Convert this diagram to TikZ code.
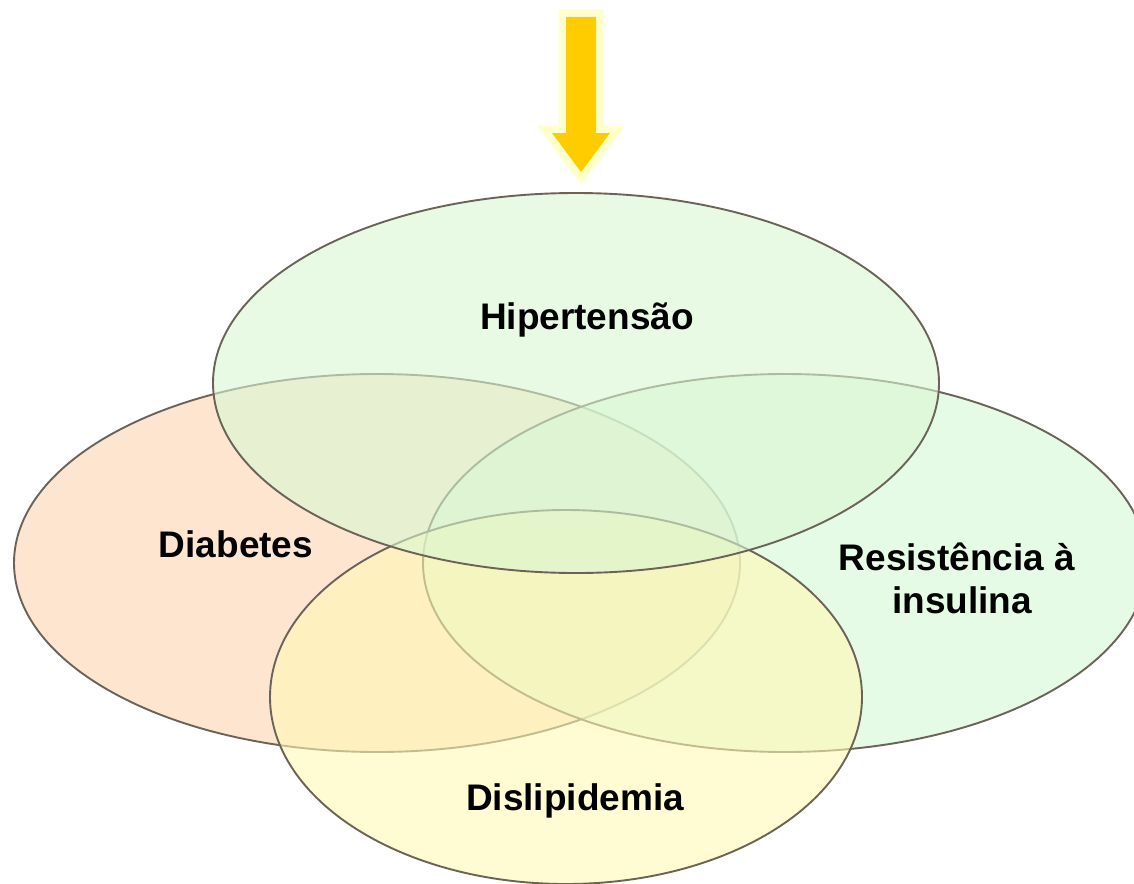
\documentclass[tikz,border=0pt]{standalone}
\usepackage{fontspec}
\setmainfont{Liberation Sans}
\definecolor{rim}{HTML}{6B6358}
\definecolor{peach}{HTML}{FCD4B1}
\definecolor{mint}{HTML}{DAF7D2}
\definecolor{leaf}{HTML}{D5F8D5}
\definecolor{cream}{HTML}{FFF8B4}
\definecolor{gold}{HTML}{FFCC00}
\definecolor{glow}{HTML}{FFFFCC}

\begin{document}
\begin{tikzpicture}[x=1pt,y=-1pt,
    set/.style={draw=rim,line width=1.9pt,fill opacity=0.6},
    tag/.style={font=\fontsize{37}{43}\selectfont\bfseries,inner sep=0pt,anchor=base}]
  \useasboundingbox (0,0) rectangle (1134,883);
  \clip (0,0) rectangle (1134,883);

  \fill[gold,preaction={draw=glow,line width=15pt,line join=miter}]
    (566,17) -- (596,17) -- (596,133) -- (610,133) -- (581,172)
    -- (552,133) -- (566,133) -- cycle;

  \filldraw[set,fill=peach] (377,563) ellipse [x radius=363pt, y radius=189pt];
  \filldraw[set,fill=leaf] (785,563) ellipse [x radius=362pt, y radius=189pt];
  \filldraw[set,fill=cream] (566,697) ellipse [x radius=296pt, y radius=187pt];
  \filldraw[set,fill=mint] (576,383) ellipse [x radius=363pt, y radius=190pt];

  \node[tag] (hip) at (587,329) {Hipertensão};
  \node[tag] (dia) at (236,557) {Diabetes};
  \node[tag] (res) at (957,570) {Resistência à};
  \node[tag] (ins) at (962,613) {insulina};
  \node[tag] (dis) at (575,810) {Dislipidemia};
\end{tikzpicture}
\end{document}
